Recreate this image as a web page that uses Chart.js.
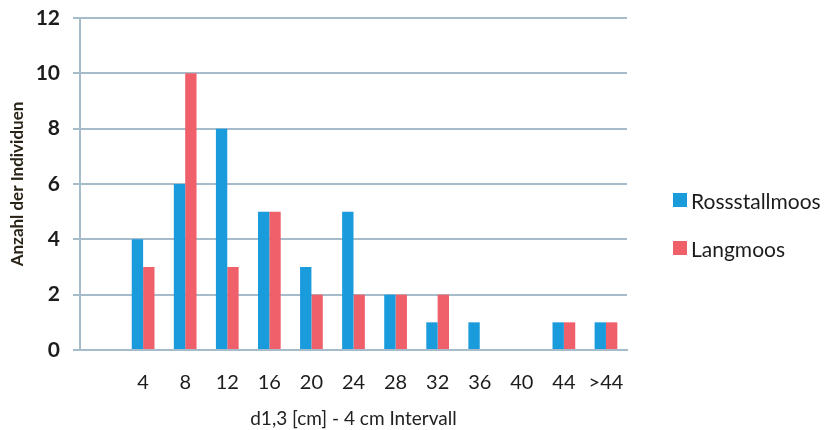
<!DOCTYPE html>
<html>
<head>
<meta charset="utf-8">
<script src="https://cdn.jsdelivr.net/npm/chart.js@4.4.0/dist/chart.umd.min.js"></script>
<style>
  html, body { margin: 0; padding: 0; background: #ffffff; }
  #wrap { width: 832px; height: 430px; position: relative; }
</style>
</head>
<body>
<div id="wrap"><canvas id="c" width="832" height="430"></canvas></div>
<script>
// Diameter classes (d1,3, 4 cm steps); the leading slot is an empty class
const categories = ['', '4', '8', '12', '16', '20', '24', '28', '32', '36', '40', '44', '>44'];
const rossstallmoos = [null, 4, 6, 8, 5, 3, 5, 2, 1, 1, 0, 1, 1];
const langmoos      = [null, 3, 10, 3, 5, 2, 2, 2, 2, 0, 0, 1, 1];
const yTicks = [0, 2, 4, 6, 8, 10, 12];

const BLUE = '#1a9bdc';
const RED = '#f0606b';
const GRID = '#a6bccb';
const FONT = "'Lato', 'Open Sans', sans-serif";

// Legend drawn to the right of the plot area
const sideLegend = {
  id: 'sideLegend',
  afterDraw(chart) {
    const ctx = chart.ctx;
    const x = 673, y0 = 202, step = 48, box = 14;
    ctx.save();
    ctx.font = '21px ' + FONT;
    ctx.textBaseline = 'middle';
    ctx.textAlign = 'left';
    chart.data.datasets.forEach((ds, i) => {
      const y = y0 + i * step;
      ctx.fillStyle = ds.backgroundColor;
      ctx.fillRect(x, y - box / 2 - 2, box, box);
      ctx.fillStyle = '#1c1c1c';
      ctx.fillText(ds.label, x + box + 4, y);
    });
    ctx.restore();
  }
};

new Chart(document.getElementById('c'), {
  type: 'bar',
  data: {
    labels: categories,
    datasets: [
      { label: 'Rossstallmoos', data: rossstallmoos, backgroundColor: BLUE, borderWidth: 0 },
      { label: 'Langmoos', data: langmoos, backgroundColor: RED, borderWidth: 0 }
    ]
  },
  options: {
    responsive: false,
    animation: false,
    devicePixelRatio: 1,
    layout: { padding: { top: 18, right: 205, left: 0, bottom: 0 } },
    categoryPercentage: 0.54,
    barPercentage: 1.0,
    plugins: {
      legend: { display: false },
      tooltip: { enabled: false }
    },
    scales: {
      x: {
        grid: { display: false, drawTicks: false },
        border: { display: true, color: GRID, width: 2 },
        ticks: {
          color: '#1c1c1c',
          font: { family: FONT, size: 20 },
          padding: 21,
          maxRotation: 0,
          autoSkip: false
        },
        title: {
          display: true,
          text: 'd1,3 [cm] - 4 cm Intervall',
          color: '#222',
          font: { family: FONT, size: 19 },
          padding: { top: 1, bottom: 0 }
        },
        afterFit(scale) { scale.height = 80; }
      },
      y: {
        min: 0,
        max: 12,
        afterBuildTicks(scale) { scale.ticks = yTicks.map(v => ({ value: v })); },
        grid: { color: GRID, lineWidth: 2, tickLength: 7, drawTicks: true },
        border: { display: true, color: GRID, width: 2 },
        ticks: {
          color: '#1c1c1c',
          font: { family: FONT, size: 21, weight: 'bold' },
          padding: 13
        },
        title: {
          display: true,
          text: 'Anzahl der Individuen',
          color: '#2a2418',
          font: { family: FONT, size: 17, weight: 'bold' },
          padding: { top: 7, bottom: 4 }
        },
        afterFit(scale) {
          scale.width = 80;
          scale.paddingTop = 0;
          scale.paddingBottom = 0;
        }
      }
    }
  },
  plugins: [sideLegend]
});
</script>
</body>
</html>
